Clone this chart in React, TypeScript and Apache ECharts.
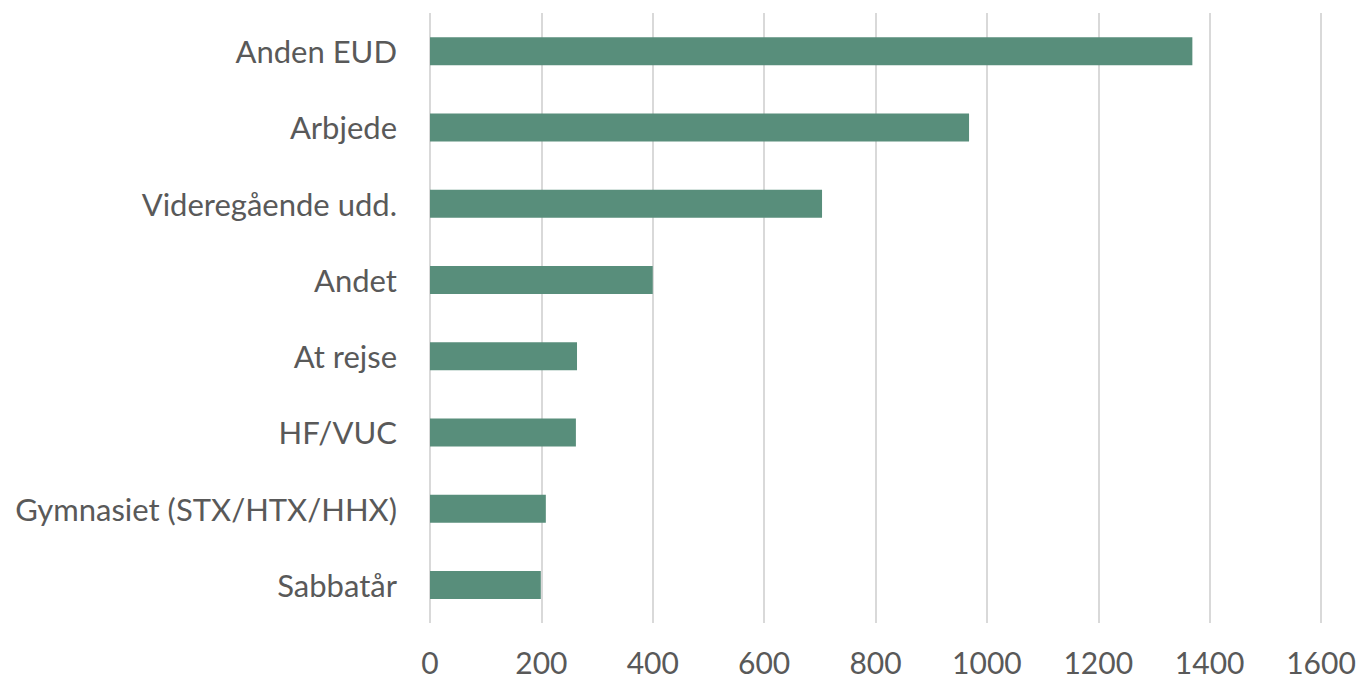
import React, { useEffect, useRef } from "react";
import * as echarts from "echarts";

const categories = [
  "Anden EUD",
  "Arbjede",
  "Videregående udd.",
  "Andet",
  "At rejse",
  "HF/VUC",
  "Gymnasiet (STX/HTX/HHX)",
  "Sabbatår",
];
const values = [1369, 968, 704, 400, 264, 262, 208, 199];
const xTicks = { min: 0, max: 1600, interval: 200 };

export default function App() {
  const ref = useRef<HTMLDivElement>(null);
  useEffect(() => {
    if (!ref.current) return;
    const chart = echarts.init(ref.current, null, { renderer: "svg" });
    chart.setOption({
      animation: false,
      grid: { left: 430, right: 41, top: 13, bottom: 59, containLabel: false },
      xAxis: {
        type: "value",
        min: xTicks.min,
        max: xTicks.max,
        interval: xTicks.interval,
        axisLine: { show: false },
        axisTick: { show: false },
        splitLine: { lineStyle: { color: "#d9d9d9", width: 2 } },
        axisLabel: {
          color: "#595959",
          fontFamily: "Lato",
          fontSize: 30,
          margin: 24,
          formatter: (v: number) => String(v),
        },
      },
      yAxis: {
        type: "category",
        data: categories,
        inverse: true,
        axisLine: { show: false },
        axisTick: { show: false },
        splitLine: { show: false },
        axisLabel: {
          color: "#595959",
          fontFamily: "Lato",
          fontSize: 31,
          margin: 33,
        },
      },
      series: [
        {
          type: "bar",
          data: values,
          barWidth: 28,
          itemStyle: { color: "#588e7b" },
        },
      ],
    });
    return () => chart.dispose();
  }, []);
  return (
    <div
      ref={ref}
      style={{ width: 1362, height: 682, position: "absolute", left: 0, top: 0 }}
    />
  );
}
